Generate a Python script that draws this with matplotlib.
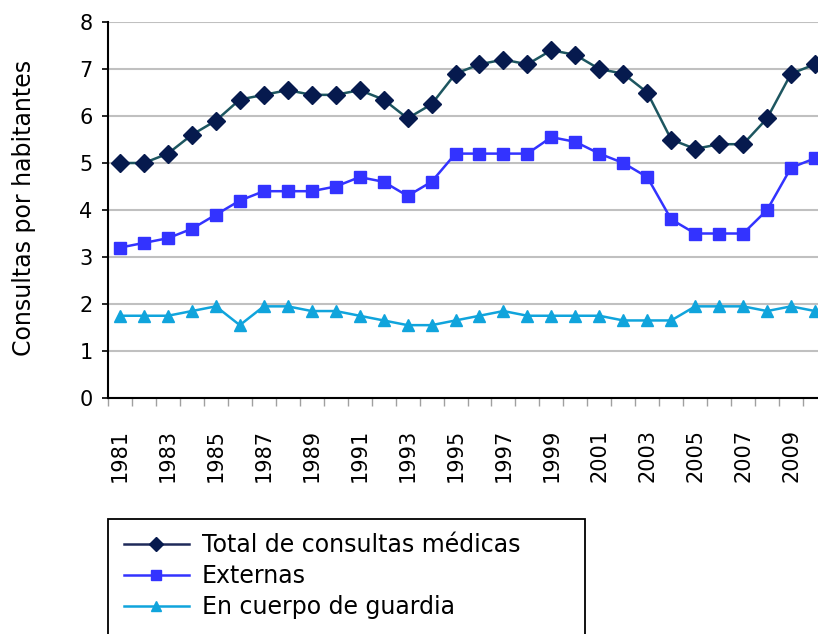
import matplotlib

matplotlib.use("Agg")
import matplotlib.pyplot as plt
from matplotlib.lines import Line2D
from matplotlib.patches import Rectangle

years = list(range(1981, 2011))
total = [5.0, 5.0, 5.2, 5.6, 5.9, 6.35, 6.45, 6.55, 6.45, 6.45, 6.55, 6.35, 5.95, 6.25, 6.9,
         7.1, 7.2, 7.1, 7.4, 7.3, 7.0, 6.9, 6.5, 5.5, 5.3, 5.4, 5.4, 5.95, 6.9, 7.1]
externas = [3.2, 3.3, 3.4, 3.6, 3.9, 4.2, 4.4, 4.4, 4.4, 4.5, 4.7, 4.6, 4.3, 4.6, 5.2,
            5.2, 5.2, 5.2, 5.55, 5.45, 5.2, 5.0, 4.7, 3.8, 3.5, 3.5, 3.5, 4.0, 4.9, 5.1]
guardia = [1.75, 1.75, 1.75, 1.85, 1.95, 1.55, 1.95, 1.95, 1.85, 1.85, 1.75, 1.65, 1.55, 1.55, 1.65,
           1.75, 1.85, 1.75, 1.75, 1.75, 1.75, 1.65, 1.65, 1.65, 1.95, 1.95, 1.95, 1.85, 1.95, 1.85]
labels = ["Total de consultas médicas", "Externas", "En cuerpo de guardia"]
tick_years = list(range(1981, 2010, 2))

c_total_line, c_total_mk = "#1d5660", "#061a4e"
c_ext = "#3333ff"
c_gua = "#10a4dc"

fig = plt.figure(figsize=(8.18, 6.34), dpi=100)
W, H = 818, 634
ax = fig.add_axes([108 / W, 1 - 398 / H, 719 / W, 376 / H])

ax.plot(years, total, color=c_total_line, lw=1.8, marker="D", ms=9,
        mfc=c_total_mk, mec=c_total_mk, zorder=3)
ax.plot(years, externas, color=c_ext, lw=1.8, marker="s", ms=8,
        mfc=c_ext, mec=c_ext, zorder=3)
ax.plot(years, guardia, color=c_gua, lw=1.8, marker="^", ms=9,
        mfc=c_gua, mec=c_gua, zorder=3)

ax.set_xlim(1980.5, 2010.5)
ax.set_ylim(0, 8)
ax.set_yticks(range(0, 9))
ax.yaxis.grid(True, color="#c0c0c0", lw=1.5)
ax.set_axisbelow(True)
for s in ("top", "right"):
    ax.spines[s].set_visible(False)
for s in ("left", "bottom"):
    ax.spines[s].set_color("black")
    ax.spines[s].set_linewidth(1.5)

ax.set_xticks(tick_years)
ax.set_xticklabels([str(y) for y in tick_years], rotation=90)
ax.set_xticks([y + 0.5 for y in range(1980, 2011)], minor=True)
ax.tick_params(axis="x", which="major", length=0, pad=22, labelsize=15)
ax.tick_params(axis="x", which="minor", length=6, color="#a0a0a0", width=1)
ax.tick_params(axis="y", length=4, width=1.2, labelsize=15, pad=7)

fig.text(24 / W, 1 - 208 / H, "Consultas por habitantes", rotation=90,
         ha="center", va="center", fontsize=17)

fig.patches.append(Rectangle((108 / W, -0.05), (585 - 108) / W, 0.05 + 1 - 519 / H,
                             transform=fig.transFigure, fill=False, ec="black",
                             lw=1.3, clip_on=False))
handles = [
    Line2D([], [], color="#1f2a5a", lw=1.8, marker="D", ms=7, mfc=c_total_mk, mec=c_total_mk),
    Line2D([], [], color=c_ext, lw=1.8, marker="s", ms=7, mfc=c_ext, mec=c_ext),
    Line2D([], [], color=c_gua, lw=1.8, marker="^", ms=7, mfc=c_gua, mec=c_gua),
]
fig.legend(handles, labels, loc="upper left", bbox_to_anchor=(124 / W, 1 - 533 / H),
           frameon=False, fontsize=17, handlelength=2.75, handletextpad=0.55,
           labelspacing=0.3, borderpad=0, borderaxespad=0)

fig.savefig("out.png", dpi=100)
